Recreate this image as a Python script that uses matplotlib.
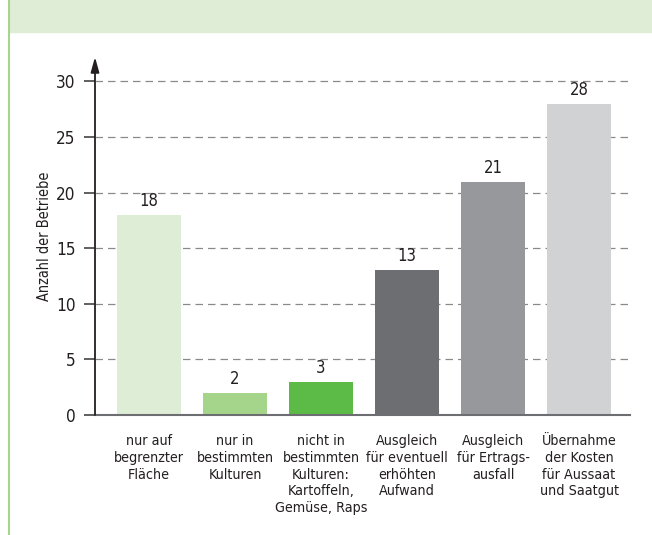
import matplotlib
matplotlib.use("Agg")
import matplotlib.pyplot as plt
from matplotlib import font_manager as fm
from matplotlib.patches import Rectangle
from matplotlib.lines import Line2D

categories = [
    "nur auf\nbegrenzter\nFläche",
    "nur in\nbestimmten\nKulturen",
    "nicht in\nbestimmten\nKulturen:\nKartoffeln,\nGemüse, Raps",
    "Ausgleich\nfür eventuell\nerhöhten\nAufwand",
    "Ausgleich\nfür Ertrags-\nausfall",
    "Übernahme\nder Kosten\nfür Aussaat\nund Saatgut",
]
values = [18, 2, 3, 13, 21, 28]
colors = ["#deedd5", "#a5d58a", "#5cbb46", "#6d6e71", "#97989b", "#d1d2d4"]
yticks = [0, 5, 10, 15, 20, 25, 30]
ylabel = "Anzahl der Betriebe"

# pick a narrow font if available
names = {f.name for f in fm.fontManager.ttflist}
dv_cond = [f for f in fm.fontManager.ttflist
           if f.name == "DejaVu Sans" and str(f.stretch) in ("condensed", "semi-condensed", "75", "87")]
scale = 1.0
if "Liberation Sans Narrow" in names:
    plt.rcParams["font.family"] = ["Liberation Sans Narrow", "DejaVu Sans"]
elif dv_cond:
    plt.rcParams["font.family"] = ["DejaVu Sans"]
    plt.rcParams["font.stretch"] = "condensed"
    scale = 0.95
else:
    plt.rcParams["font.family"] = ["Liberation Sans", "DejaVu Sans"]
    scale = 0.86

W, H = 652, 535
fig = plt.figure(figsize=(W / 100, H / 100), dpi=100)

# header band and left border
fig.patches.append(Rectangle((9 / W, 1 - 32 / H), 1 - 9 / W, 32 / H,
                             transform=fig.transFigure, color="#dfedd6", zorder=0))
fig.lines.append(Line2D([8.5 / W, 8.5 / W], [0, 1], transform=fig.transFigure,
                        color="#a6d58c", lw=1.5))

ax = fig.add_axes([95 / W, 120 / H, (630 - 95) / W, (415 - 57) / H])
x = list(range(len(values)))
ymax = 32.2
ax.set_xlim(-0.628, 5.593)
ax.set_ylim(0, ymax)

for yv in yticks[1:]:
    ax.plot([-0.628, 5.62], [yv, yv], color="#8a8a8a", lw=0.9,
            dashes=(6, 4), zorder=1, clip_on=False)

ax.bar(x, values, width=64 / 86, color=colors, zorder=2)
for xi, v in zip(x, values):
    ax.text(xi, v + 0.45, str(v), ha="center", va="bottom", fontsize=12.5 * scale,
            color="#231f20", zorder=3)

for s in ["top", "right", "left"]:
    ax.spines[s].set_visible(False)
ax.spines["bottom"].set_color("#6d6e71")
ax.spines["bottom"].set_linewidth(1.5)
ax.spines["bottom"].set_zorder(4)

ax.annotate("", xy=(-0.628, ymax), xytext=(-0.628, 0),
            xycoords="data", textcoords="data",
            arrowprops=dict(arrowstyle="-|>,head_length=0.9,head_width=0.25",
                            color="#231f20", lw=1.3, shrinkA=0, shrinkB=0),
            annotation_clip=False, zorder=5)

ax.set_yticks(yticks)
ax.set_yticklabels([str(t) for t in yticks], fontsize=13 * scale, color="#231f20")
ax.tick_params(axis="y", length=8, width=1.2, color="#444444", pad=6)
ax.set_xticks(x)
ax.set_xticklabels(categories, fontsize=10.8 * scale, color="#231f20", linespacing=1.24)
ax.tick_params(axis="x", length=0, pad=14)

ax.set_ylabel(ylabel, fontsize=11 * scale, color="#231f20", labelpad=3)

fig.savefig("out.png", dpi=100, facecolor="white")
